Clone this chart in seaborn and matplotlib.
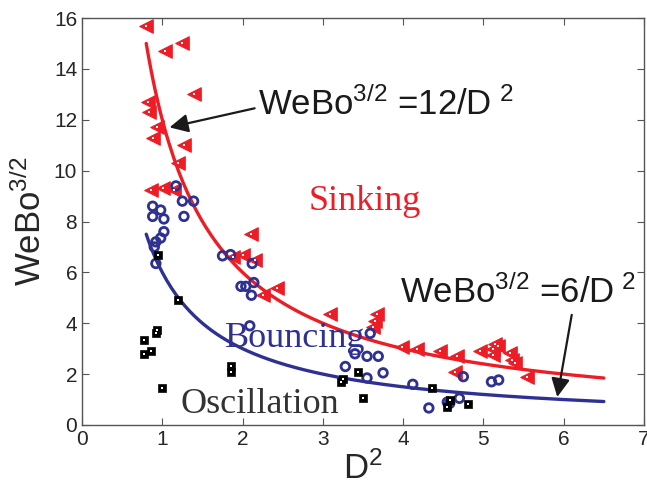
import numpy as np
import pandas as pd
import seaborn as sns
import matplotlib.pyplot as plt

# regime data (D^2, WeBo^{3/2})
sink_x = [0.80, 1.03, 1.25, 1.39, 0.82, 0.83, 0.94, 0.88, 1.27, 1.20, 0.86, 1.01, 1.14,
          2.10, 2.00, 1.88, 2.16, 2.43, 2.26, 3.09, 3.68, 3.65, 3.63, 3.99, 4.17, 4.46,
          4.67, 4.65, 4.96, 5.14, 5.18, 5.12, 5.12, 5.33, 5.35, 5.39, 5.54]
sink_y = [15.7, 14.7, 15.0, 13.0, 12.7, 12.3, 11.7, 11.3, 11.0, 10.3, 9.25, 9.3, 9.25,
          7.5, 6.7, 6.6, 6.5, 5.4, 5.1, 4.35, 4.35, 4.1, 3.85, 3.07, 3.0, 2.9,
          2.7, 2.1, 2.9, 3.2, 3.1, 3.0, 2.75, 2.85, 2.55, 2.45, 1.9]

bounce_x = [1.17, 1.25, 1.39, 0.88, 0.98, 0.88, 1.02, 1.27, 1.02, 0.98, 0.92, 0.90, 0.92,
            1.85, 1.75, 2.12, 1.98, 2.04, 2.14, 2.11, 2.09, 3.59, 3.40, 3.55, 3.69, 3.28,
            3.75, 3.55, 4.12, 4.32, 4.55, 4.58, 4.70, 4.75, 5.10, 5.19]
bounce_y = [9.4, 8.8, 8.8, 8.6, 8.45, 8.2, 8.1, 8.2, 7.6, 7.35, 7.2, 7.0, 6.35,
            6.7, 6.65, 6.35, 5.45, 5.45, 5.6, 5.1, 3.9, 3.6, 2.8, 2.7, 2.7, 2.3,
            2.05, 1.85, 1.6, 0.67, 0.9, 0.85, 1.05, 1.9, 1.7, 1.77]

osc_x = [0.95, 1.19, 0.94, 0.92, 0.77, 0.86, 0.77, 1.85, 1.85, 1.00, 3.22, 3.25, 3.44,
         3.50, 4.36, 4.58, 4.55, 4.81]
osc_y = [6.7, 4.9, 3.75, 3.6, 3.35, 2.9, 2.8, 2.3, 2.1, 1.45, 1.7, 1.8, 2.1,
         1.05, 1.45, 1.0, 0.7, 0.83]

# boundary curves WeBo^{3/2} = C / D^2
upper_c = 12
lower_c = 6
curve_x = np.linspace(0.8, 6.5, 200)

red = '#ee1c25'
blue = '#2e3192'

sns.set_style('ticks')
plt.rcParams['font.family'] = ['Liberation Sans', 'DejaVu Sans']
plt.rcParams['mathtext.default'] = 'regular'

fig = plt.figure(figsize=(6.47, 4.93), dpi=100)
ax = fig.add_axes([82 / 647, 1 - 425 / 493, 562 / 647, 407 / 493])

curves = pd.DataFrame({'x': curve_x, 'upper': upper_c / curve_x, 'lower': lower_c / curve_x})
sns.lineplot(data=curves, x='x', y='upper', color=red, lw=2.4, ax=ax)
sns.lineplot(data=curves, x='x', y='lower', color=blue, lw=2.4, ax=ax)

sns.scatterplot(x=sink_x, y=sink_y, marker='<', s=95, color=red, edgecolor=red, ax=ax, zorder=3)
sns.scatterplot(x=bounce_x, y=bounce_y, marker='o', s=38, facecolor='none', edgecolor=blue,
                linewidth=2.0, ax=ax, zorder=3)
sns.scatterplot(x=osc_x, y=osc_y, marker='s', s=36, color='black', edgecolor='black', ax=ax, zorder=3)
# small white centres of the filled markers
sns.scatterplot(x=sink_x + osc_x, y=sink_y + osc_y, marker='s', s=2, color='white',
                linewidth=0, ax=ax, zorder=4)

ax.set_xlim(0, 7)
ax.set_ylim(0, 16)
ax.set_xticks(range(0, 8))
ax.set_yticks(range(0, 17, 2))
ax.tick_params(direction='in', top=True, right=True, length=5, labelsize=15, color='#555555')
for sp in ax.spines.values():
    sp.set_color('#555555')
    sp.set_linewidth(1.0)

ax.set_xlabel('D$^2$', fontsize=25, labelpad=2)
ax.set_ylabel('WeBo$^{3/2}$', fontsize=25, labelpad=4)

ax.text(3.52, 8.46, 'Sinking', color=red, fontsize=26, family='Liberation Serif', ha='center')
ax.text(2.66, 3.07, 'Bouncing', color=blue, fontsize=26, family='Liberation Serif', ha='center')
ax.text(2.22, 0.47, 'Oscillation', color='#333333', fontsize=26, family='Liberation Serif', ha='center')

ax.text(2.19, 12.2, 'WeBo$^{3/2}$ =12/D$^{\\ 2}$', fontsize=25, color='#1a1a1a')
ax.text(3.96, 4.8, 'WeBo$^{3/2}$ =6/D$^{\\ 2}$', fontsize=25, color='#1a1a1a')

arrow = dict(arrowstyle='-|>', color='#1a1a1a', lw=1.6, mutation_scale=28, shrinkA=0, shrinkB=0)
ax.annotate('', xy=(1.09, 11.7), xytext=(2.15, 12.45), arrowprops=arrow)
ax.annotate('', xy=(5.92, 1.10), xytext=(6.10, 4.33), arrowprops=arrow)

plt.savefig('out.png', dpi=100)
